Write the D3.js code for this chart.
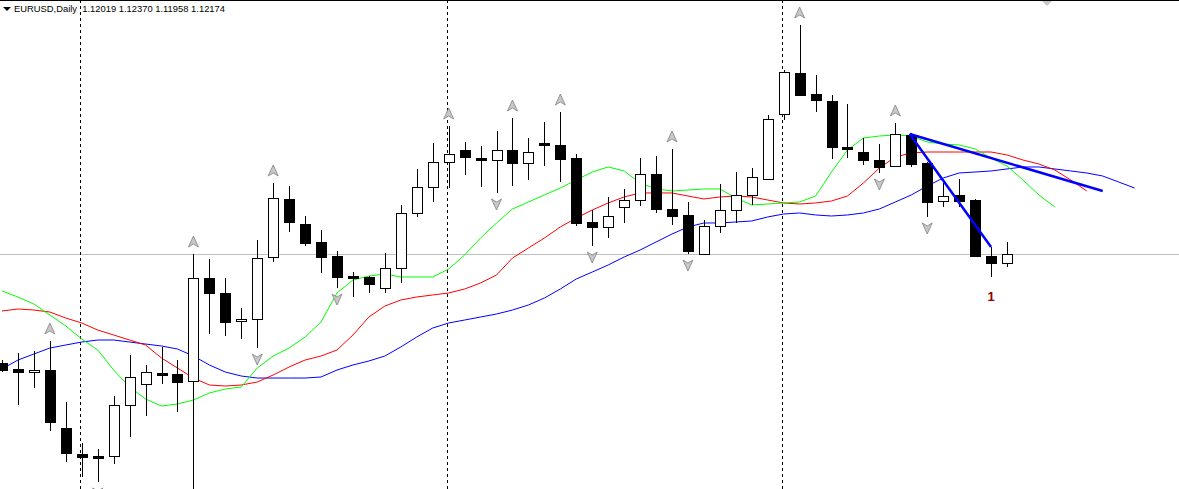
<!DOCTYPE html>
<html>
<head>
<meta charset="UTF-8">
<title>EURUSD,Daily</title>
<script src="https://d3js.org/d3.v7.min.js"></script>
<style>
  body { margin: 0; background: #fff; }
  svg { display: block; }
</style>
</head>
<body>
<svg id="chart" width="1179" height="489"></svg>
<script>
// OHLC, one row per day
var opens = [1.10376,1.10277,1.10227,1.10260,1.09303,1.08874,1.08841,1.08841,1.09683,1.10029,1.10211,1.10194,1.10079,1.11778,1.11531,1.11069,
  1.11102,1.12125,1.13082,1.12669,1.12372,1.12141,1.11811,1.11795,1.11613,1.11943,1.12851,1.13280,1.13692,1.13890,1.13758,1.13725,
  1.13890,1.13676,1.14006,1.13973,1.13758,1.12702,1.12620,1.12950,1.13065,1.13494,1.12917,1.12818,1.12174,1.12636,1.12900,1.13148,
  1.13412,1.14484,1.15161,1.14814,1.14699,1.13940,1.13857,1.13725,1.13626,1.14138,1.13676,1.13049,1.13148,1.13065,1.12141,1.12019];
var highs = [1.10425,1.10541,1.10574,1.10739,1.09732,1.09056,1.08957,1.09831,1.10508,1.10343,1.10640,1.10425,1.12174,1.12092,1.11778,1.11283,
  1.12405,1.13346,1.13296,1.12801,1.12570,1.12224,1.11877,1.11811,1.12191,1.12983,1.13577,1.14006,1.14286,1.14022,1.13956,1.14204,
  1.14418,1.14088,1.14352,1.14517,1.13824,1.12900,1.13115,1.13247,1.13758,1.13791,1.13907,1.13032,1.12735,1.13329,1.13527,1.13593,
  1.14468,1.15210,1.15953,1.15128,1.14798,1.14649,1.14088,1.13989,1.14336,1.14171,1.13692,1.13346,1.13412,1.13082,1.12290,1.12370];
var lows = [1.10227,1.09683,1.09963,1.09254,1.08742,1.08495,1.08412,1.08709,1.09155,1.09501,1.10029,1.09567,1.08198,1.10854,1.10821,1.10772,
  1.10623,1.12042,1.12537,1.12306,1.11861,1.11613,1.11465,1.11531,1.11531,1.11696,1.12785,1.13032,1.13263,1.13478,1.13280,1.13181,
  1.13296,1.13395,1.13626,1.13362,1.12636,1.12306,1.12438,1.12686,1.12966,1.12851,1.12653,1.12174,1.12174,1.12521,1.12686,1.12983,
  1.13412,1.14385,1.14798,1.14517,1.13742,1.13758,1.13643,1.13511,1.13626,1.13610,1.12785,1.12950,1.12950,1.12125,1.11795,1.11958];
var closes = [1.10260,1.10227,1.10260,1.09402,1.08891,1.08825,1.08808,1.09683,1.10145,1.10227,1.10178,1.10062,1.11778,1.11531,1.11052,1.11102,
  1.12108,1.13098,1.12702,1.12356,1.12125,1.11795,1.11778,1.11679,1.11943,1.12851,1.13280,1.13692,1.13824,1.13775,1.13725,1.13890,
  1.13676,1.13857,1.13973,1.13742,1.12686,1.12620,1.12801,1.13065,1.13494,1.12917,1.12801,1.12224,1.12636,1.12900,1.13148,1.13445,
  1.14402,1.15177,1.14798,1.14715,1.13940,1.13907,1.13725,1.13610,1.14154,1.13659,1.13032,1.13131,1.13049,1.12141,1.12026,1.12174];

// Alligator lines (lips / teeth / jaw), shifted forward past the last bar
var lips = [1.11564,1.11465,1.11349,1.11168,1.10986,1.10772,1.10590,1.10260,1.09980,1.09782,1.09666,1.09699,1.09765,1.09881,1.09947,1.09980,
  1.10293,1.10491,1.10623,1.10805,1.11052,1.11531,1.11745,1.11811,1.11844,1.11795,1.11795,1.11795,1.11927,1.12158,1.12438,1.12686,
  1.12917,1.13032,1.13148,1.13263,1.13395,1.13527,1.13610,1.13544,1.13346,1.13247,1.13214,1.13230,1.13247,1.13247,1.13098,1.12983,
  1.12999,1.13016,1.13032,1.13131,1.13527,1.13890,1.14088,1.14121,1.14138,1.14121,1.14022,1.13989,1.13973,1.13907,1.13758,1.13626,
  1.13395,1.13148,1.12950];
var teeth = [1.11234,1.11267,1.11250,1.11217,1.11118,1.11036,1.10920,1.10838,1.10755,1.10673,1.10458,1.10293,1.10128,1.10013,1.09996,1.10013,
  1.10062,1.10178,1.10310,1.10425,1.10491,1.10590,1.10838,1.11135,1.11316,1.11415,1.11465,1.11498,1.11531,1.11597,1.11696,1.11828,
  1.12108,1.12273,1.12438,1.12620,1.12768,1.12900,1.13016,1.13115,1.13181,1.13181,1.13181,1.13131,1.13082,1.13115,1.13131,1.13115,
  1.13065,1.13016,1.12999,1.13016,1.13049,1.13131,1.13346,1.13593,1.13775,1.13841,1.13857,1.13857,1.13857,1.13857,1.13857,1.13808,
  1.13725,1.13659,1.13560,1.13395,1.13214];
var jaw = [1.10277,1.10425,1.10524,1.10623,1.10673,1.10722,1.10755,1.10755,1.10722,1.10689,1.10656,1.10607,1.10491,1.10343,1.10227,1.10161,
  1.10128,1.10128,1.10128,1.10128,1.10145,1.10260,1.10343,1.10409,1.10491,1.10640,1.10805,1.10953,1.11036,1.11085,1.11135,1.11184,
  1.11250,1.11333,1.11448,1.11597,1.11762,1.11877,1.11993,1.12125,1.12240,1.12372,1.12504,1.12620,1.12686,1.12686,1.12702,1.12719,
  1.12785,1.12834,1.12851,1.12818,1.12801,1.12818,1.12851,1.12917,1.13032,1.13148,1.13296,1.13428,1.13511,1.13527,1.13544,1.13577,
  1.13610,1.13610,1.13577,1.13544,1.13511,1.13461,1.13362,1.13263];

// fractal bars (index into the day arrays)
var upFractals = [3, 12, 17, 28, 32, 35, 42, 50, 56];
var downFractals = [6, 12, 16, 21, 31, 37, 43, 55, 58];
// period separators sit on these bars
var separators = [5, 28, 49];
// hand drawn trend lines: [startBar, startPrice, endBar, endPrice]
var trendLines = [[56.9, 1.14154, 69.0, 1.13214], [56.9, 1.14154, 62, 1.12290]];
var waveLabel = { bar: 62, price: 1.11465, text: "1" };
var bid = 1.12174;
var header = "EURUSD,Daily  1.12019 1.12370 1.11958 1.12174";

var W = 1179, H = 489;
var svg = d3.select("#chart");

var x = d3.scaleLinear().domain([0, 63]).range([2, 1007]);
var y = d3.scaleLinear().domain([1.08297, 1.16365]).range([H, 0]);

var candles = d3.range(opens.length).map(function (i) {
  return { i: i, o: opens[i], h: highs[i], l: lows[i], c: closes[i] };
});

// bid line
svg.append("line")
  .attr("x1", 0).attr("x2", W)
  .attr("y1", Math.round(y(bid)) + 0.5).attr("y2", Math.round(y(bid)) + 0.5)
  .attr("stroke", "#c0c0c0");

// separators
svg.selectAll(".sep").data(separators).enter().append("line")
  .attr("x1", function (d) { return Math.round(x(d)) - 1.5; })
  .attr("x2", function (d) { return Math.round(x(d)) - 1.5; })
  .attr("y1", 0).attr("y2", H)
  .attr("stroke", "#000").attr("stroke-dasharray", "3,3");

// alligator
var line = d3.line().x(function (d, i) { return x(i); }).y(function (d) { return y(d); });
[[jaw, "#0000ff"], [teeth, "#ff0000"], [lips, "#00ff00"]].forEach(function (s) {
  svg.append("path").datum(s[0]).attr("d", line)
    .attr("fill", "none").attr("stroke", s[1]).attr("stroke-width", 1);
});

// candles
var cg = svg.append("g").attr("shape-rendering", "crispEdges");
cg.selectAll(".wick").data(candles).enter().append("line")
  .attr("x1", function (d) { return Math.round(x(d.i)) + 0.5; })
  .attr("x2", function (d) { return Math.round(x(d.i)) + 0.5; })
  .attr("y1", function (d) { return y(d.h); })
  .attr("y2", function (d) { return y(d.l); })
  .attr("stroke", "#000");
cg.selectAll(".body").data(candles).enter().append("rect")
  .attr("x", function (d) { return Math.round(x(d.i)) - 4.5; })
  .attr("width", 10)
  .attr("y", function (d) { return Math.round(y(Math.max(d.o, d.c))) + 0.5; })
  .attr("height", function (d) { return Math.max(2, Math.round(Math.abs(y(d.o) - y(d.c)))); })
  .attr("fill", function (d) { return d.c >= d.o ? "#fff" : "#000"; })
  .attr("stroke", "#000");

// fractal arrows
var arrow = "M0,-6 L5,5 L0,2 L-5,5 Z";
svg.selectAll(".fup").data(upFractals).enter().append("path")
  .attr("d", arrow)
  .attr("transform", function (d) { return "translate(" + x(d) + "," + (y(highs[d]) - 12) + ")"; })
  .attr("fill", "#c8c8c8").attr("stroke", "#808080").attr("stroke-width", 0.8);
svg.selectAll(".fdn").data(downFractals).enter().append("path")
  .attr("d", arrow)
  .attr("transform", function (d) { return "translate(" + x(d) + "," + (y(lows[d]) + 11) + ") rotate(180)"; })
  .attr("fill", "#c8c8c8").attr("stroke", "#808080").attr("stroke-width", 0.8);

// off-screen marker at top
svg.append("path").attr("d", "M1041,0 L1053,0 L1047,6 Z").attr("fill", "#c8c8c8");

// trend lines
svg.selectAll(".trend").data(trendLines).enter().append("line")
  .attr("x1", function (d) { return x(d[0]); })
  .attr("y1", function (d) { return y(d[1]); })
  .attr("x2", function (d) { return x(d[2]); })
  .attr("y2", function (d) { return y(d[3]); })
  .attr("stroke", "#0000ff").attr("stroke-width", 2.5);

// wave label
svg.append("text")
  .attr("x", x(waveLabel.bar)).attr("y", y(waveLabel.price) + 4)
  .attr("text-anchor", "middle")
  .attr("font-family", "Arial, 'Liberation Sans', sans-serif")
  .attr("font-weight", "bold").attr("font-size", 13)
  .attr("fill", "#8b0000").text(waveLabel.text);

// frame top + header
svg.append("line").attr("x1", 0).attr("x2", W).attr("y1", 0.5).attr("y2", 0.5).attr("stroke", "#000");
svg.append("path").attr("d", "M3,7 L11,7 L7,11 Z").attr("fill", "#000");
svg.append("text")
  .attr("x", 14).attr("y", 12)
  .attr("font-family", "'Liberation Sans', Arial, sans-serif")
  .attr("font-size", 9).attr("fill", "#000")
  .attr("xml:space", "preserve")
  .attr("textLength", 211).attr("lengthAdjust", "spacingAndGlyphs")
  .text(header);
</script>
</body>
</html>
